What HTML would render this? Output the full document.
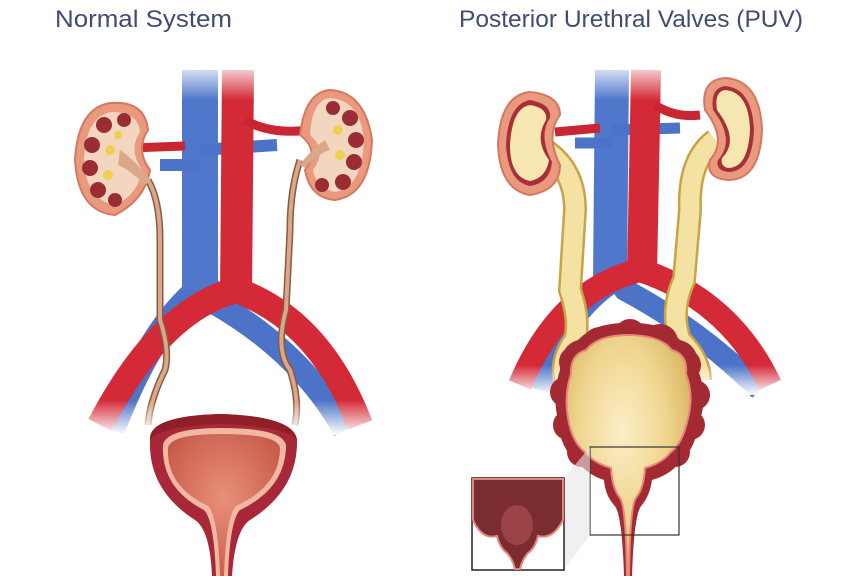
<!DOCTYPE html>
<html><head><meta charset="utf-8"><style>
html,body{margin:0;padding:0;background:#fff;}
svg{display:block;}
</style></head><body>
<svg width="856" height="576" viewBox="0 0 856 576" xmlns="http://www.w3.org/2000/svg">
<defs>
<linearGradient id="fadeTop" x1="0" y1="0" x2="0" y2="1">
<stop offset="0" stop-color="#fff" stop-opacity="1"/><stop offset="1" stop-color="#fff" stop-opacity="0"/>
</linearGradient>
<linearGradient id="fadeBot" x1="0" y1="0" x2="0" y2="1">
<stop offset="0" stop-color="#fff" stop-opacity="0"/><stop offset="1" stop-color="#fff" stop-opacity="1"/>
</linearGradient>
<radialGradient id="bl" cx="0.45" cy="0.4" r="0.6">
<stop offset="0" stop-color="#fbefc8"/><stop offset="0.6" stop-color="#efd58e"/><stop offset="1" stop-color="#d9b462"/>
</radialGradient>
<radialGradient id="nb" cx="0.5" cy="0.45" r="0.6">
<stop offset="0" stop-color="#e8907a"/><stop offset="1" stop-color="#c85a4a"/>
</radialGradient>
</defs>
<text x="55" y="27" font-family="Liberation Sans, sans-serif" font-size="24" fill="#3f4e70" textLength="177" lengthAdjust="spacingAndGlyphs">Normal System</text>
<text x="459" y="27" font-family="Liberation Sans, sans-serif" font-size="24" fill="#3f4e70" textLength="344" lengthAdjust="spacingAndGlyphs">Posterior Urethral Valves (PUV)</text>

<!-- LEFT PANEL -->
<g fill="none" stroke-linecap="butt">
<path d="M200 70 L198 290 Q150 330 112 430" stroke="#4c73c8" stroke-width="26"/>
<path d="M200 250 L210 300 Q300 350 345 430" stroke="#4c73c8" stroke-width="24"/>
<path d="M200 70 L200 290" stroke="#4f78cc" stroke-width="36"/>
<path d="M160 165 L200 165 M200 150 L277 145" stroke="#4c73c8" stroke-width="12"/>
<path d="M238 70 L236 295" stroke="#d42a38" stroke-width="32"/>
<path d="M236 290 Q160 310 100 425" stroke="#d42a38" stroke-width="26"/>
<path d="M236 290 Q320 320 360 425" stroke="#d42a38" stroke-width="26"/>
<path d="M130 148 L185 146 M245 120 Q270 135 310 130" stroke="#c82632" stroke-width="9"/>
<path d="M148 180 Q160 200 160 240 L160 320 Q170 350 165 370 Q150 400 148 425" stroke="#8a5a40" stroke-width="7"/>
<path d="M148 180 Q160 200 160 240 L160 320 Q170 350 165 370 Q150 400 148 425" stroke="#d9a888" stroke-width="4"/>
<path d="M300 160 Q290 190 290 230 L286 310 Q275 350 290 370 Q300 400 295 425" stroke="#8a5a40" stroke-width="7"/>
<path d="M300 160 Q290 190 290 230 L286 310 Q275 350 290 370 Q300 400 295 425" stroke="#d9a888" stroke-width="4"/>
</g>
<rect x="0" y="60" width="428" height="40" fill="url(#fadeTop)"/>
<rect x="60" y="400" width="340" height="35" fill="url(#fadeBot)"/>
<path d="M110 103 Q145 100 148 130 Q135 150 150 170 Q145 200 115 215 Q78 212 75 160 Q78 108 110 103Z" fill="#e99a7e" stroke="#d47860" stroke-width="2"/>
<path d="M112 112 Q138 112 140 132 Q128 150 142 170 Q138 195 115 205 Q86 200 84 160 Q86 115 112 112Z" fill="#f3d6c0"/>
<g fill="#9a2d33"><circle cx="104" cy="125" r="8"/><circle cx="92" cy="145" r="8"/><circle cx="90" cy="168" r="8"/><circle cx="98" cy="190" r="8"/><circle cx="115" cy="200" r="7"/><circle cx="124" cy="120" r="7"/></g>
<g fill="#f0d050"><circle cx="110" cy="150" r="5"/><circle cx="108" cy="175" r="5"/><circle cx="118" cy="135" r="4"/></g>
<path d="M120 150 Q135 160 150 180 L145 185 Q130 170 118 165Z" fill="#d9a888"/>
<path d="M330 90 Q365 92 372 140 Q370 195 335 200 Q310 198 305 170 Q320 150 300 135 Q305 92 330 90Z" fill="#e99a7e" stroke="#d47860" stroke-width="2"/>
<path d="M330 98 Q360 100 364 140 Q362 188 335 192 Q316 188 313 170 Q328 150 310 135 Q312 100 330 98Z" fill="#f3d6c0"/>
<g fill="#9a2d33"><circle cx="333" cy="108" r="7"/><circle cx="350" cy="118" r="8"/><circle cx="356" cy="140" r="8"/><circle cx="354" cy="162" r="8"/><circle cx="343" cy="182" r="8"/><circle cx="322" cy="185" r="7"/></g>
<g fill="#f0d050"><circle cx="338" cy="130" r="5"/><circle cx="340" cy="155" r="5"/></g>
<path d="M325 140 Q310 150 300 165 L305 168 Q315 155 330 150Z" fill="#d9a888"/>
<path d="M150 440 Q148 416 220 414 Q294 416 297 440 Q298 490 250 520 Q235 530 232 576 L212 576 Q210 530 195 520 Q148 490 150 440Z" fill="#a8283a"/>
<path d="M163 445 Q166 428 222 428 Q282 428 286 445 Q286 488 240 510 Q230 520 228 576 L216 576 Q214 520 204 510 Q161 488 163 445Z" fill="#f0b8a0"/>
<path d="M168 448 Q170 434 222 434 Q278 434 280 448 Q280 486 236 506 Q226 516 224 576 L220 576 Q218 516 208 506 Q166 486 168 448Z" fill="url(#nb)"/>
<path d="M150 440 Q148 416 220 414 Q294 416 297 440 Q285 426 222 424 Q160 426 150 440Z" fill="#8f2028"/>

<!-- RIGHT PANEL -->
<g fill="none">
<path d="M612 70 L608 285 Q560 320 540 390" stroke="#4c73c8" stroke-width="22"/>
<path d="M610 270 L625 290 Q700 330 760 390" stroke="#4c73c8" stroke-width="22"/>
<path d="M612 70 L610 280" stroke="#4f78cc" stroke-width="34"/>
<path d="M575 143 L612 143 M612 130 L680 128" stroke="#4c73c8" stroke-width="11"/>
<path d="M646 70 L642 275" stroke="#d42a38" stroke-width="30"/>
<path d="M640 270 Q560 290 520 385" stroke="#d42a38" stroke-width="24"/>
<path d="M640 270 Q730 300 770 385" stroke="#d42a38" stroke-width="24"/>
<path d="M555 132 L600 128 M655 105 Q675 118 700 115" stroke="#c82632" stroke-width="9"/>
<path d="M545 150 Q575 170 575 210 L570 290 Q580 320 575 340 Q560 360 565 380" stroke="#c9a24a" stroke-width="24"/>
<path d="M545 150 Q575 170 575 210 L570 290 Q580 320 575 340 Q560 360 565 380" stroke="#f4e2a2" stroke-width="19"/>
<path d="M715 140 Q688 160 690 210 L684 280 Q670 310 680 340 Q700 360 700 380" stroke="#c9a24a" stroke-width="24"/>
<path d="M715 140 Q688 160 690 210 L684 280 Q670 310 680 340 Q700 360 700 380" stroke="#f4e2a2" stroke-width="19"/>
</g>
<rect x="428" y="60" width="428" height="40" fill="url(#fadeTop)"/>
<rect x="500" y="365" width="300" height="30" fill="url(#fadeBot)"/>
<path d="M530 92 Q560 95 560 115 Q545 135 560 165 Q560 190 530 195 Q500 190 498 145 Q500 95 530 92Z" fill="#e99a7e" stroke="#d47860" stroke-width="2"/>
<path d="M530 100 Q552 104 550 118 Q538 135 552 162 Q550 183 530 186 Q508 182 506 145 Q508 104 530 100Z" fill="#a73038"/>
<path d="M530 105 Q548 108 546 120 Q534 140 549 160 Q546 178 530 181 Q510 177 510 145 Q512 108 530 105Z" fill="#f6e6b0"/>
<path d="M725 78 Q760 80 762 130 Q760 180 728 180 Q705 178 710 160 Q728 140 705 110 Q700 80 725 78Z" fill="#e99a7e" stroke="#d47860" stroke-width="2"/>
<path d="M725 86 Q752 88 754 130 Q752 172 728 172 Q715 170 718 160 Q736 140 713 110 Q710 88 725 86Z" fill="#a73038"/>
<path d="M725 90 Q749 92 750 130 Q748 168 728 168 Q720 166 722 158 Q740 140 717 110 Q714 92 725 90Z" fill="#f6e6b0"/>
<!-- bladder PUV lobed -->
<g fill="#a32a32">
<circle cx="600" cy="345" r="18"/><circle cx="630" cy="335" r="16"/><circle cx="660" cy="342" r="18"/><circle cx="685" cy="365" r="16"/>
<circle cx="695" cy="395" r="15"/><circle cx="690" cy="425" r="15"/><circle cx="675" cy="452" r="15"/>
<circle cx="575" cy="362" r="16"/><circle cx="565" cy="392" r="15"/><circle cx="568" cy="425" r="15"/><circle cx="582" cy="452" r="15"/>
</g>
<path d="M628 323 Q665 322 680 340 Q700 345 698 370 Q708 395 700 420 Q695 450 680 462 Q670 475 652 480 Q650 495 642 505 Q634 512 632 576 L624 576 Q622 512 614 505 Q605 495 604 480 Q588 475 578 462 Q560 450 558 420 Q552 395 560 370 Q560 345 578 340 Q595 322 628 323Z" fill="#a32a32"/>
<path d="M628 335 Q660 335 672 350 Q688 355 686 374 Q694 395 688 418 Q683 443 670 453 Q662 463 645 468 Q644 488 636 498 Q630 506 629 576 L627 576 Q626 506 620 498 Q612 488 611 468 Q594 463 586 453 Q572 443 568 418 Q564 395 571 374 Q570 355 586 350 Q598 335 628 335Z" fill="url(#bl)" stroke="#e8857a" stroke-width="2"/>
<rect x="590" y="447" width="89" height="88" fill="none" stroke="#333" stroke-width="1.2"/>
<path d="M564 478 L590 447 L590 535 L564 570Z" fill="#e6e6e6" opacity="0.6"/>
<rect x="472" y="478" width="92" height="92" fill="#fff" stroke="#222" stroke-width="1.5"/>
<path d="M473 479 L563 479 L563 520 Q553 540 538 536 Q535 548 528 553 Q522 560 520 569 L515 569 Q513 560 507 553 Q500 548 497 536 Q482 540 473 520Z" fill="#7a2c30" stroke="#e8857a" stroke-width="2"/>
<ellipse cx="517" cy="525" rx="16" ry="20" fill="#9a4448"/>
</svg>
</body></html>
